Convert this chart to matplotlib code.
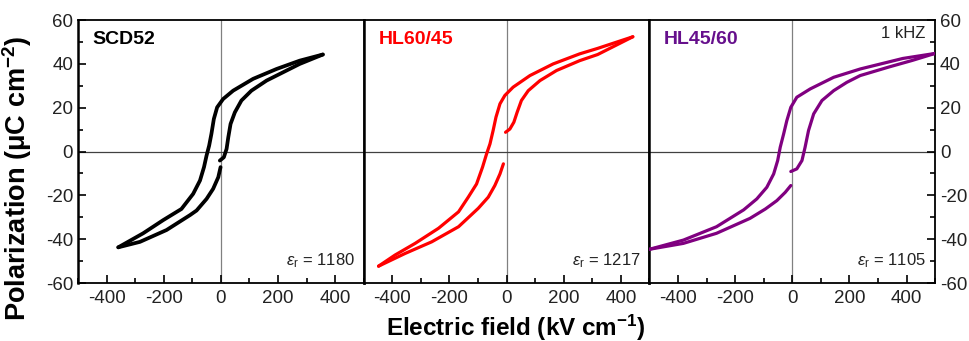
import matplotlib
matplotlib.use("Agg")
import matplotlib.pyplot as plt
from matplotlib.ticker import MultipleLocator

plt.rcParams['font.family'] = ['Liberation Sans', 'DejaVu Sans']
plt.rcParams['mathtext.fontset'] = 'custom'
plt.rcParams['mathtext.rm'] = 'Liberation Sans'
plt.rcParams['mathtext.it'] = 'Liberation Sans:italic'
plt.rcParams['mathtext.bf'] = 'Liberation Sans:bold'
plt.rcParams['axes.unicode_minus'] = False

# SCD52 loop: first rise from 0, descending branch, return branch to 0
scd_up_E = [-3.5, 10.5, 20, 26, 34, 49, 72, 107, 160, 218, 276, 357]
scd_up_P = [-4.1, -2.6, 1.2, 6.5, 12.6, 17.9, 23.3, 27.8, 32.4, 36.2, 40, 44.3]
scd_down_E = [357, 276, 195, 113, 43, 8, -13, -24.5, -33, -41, -50, -59, -73, -97, -138, -202, -272, -359]
scd_down_P = [44.3, 41.5, 37.7, 33.2, 27.8, 24, 20.2, 14.9, 8.1, 2.7, -1.8, -7.1, -13.2, -19.3, -26.2, -31.3, -37.3, -43.7]
scd_ret_E = [-359, -283, -190, -108, -85, -50, -27, -9, -1]
scd_ret_P = [-43.7, -41.2, -35.8, -29, -26.9, -21.6, -17, -11.7, -7.1]

# HL60/45
hl6045_up_E = [-3.5, 11.7, 25.6, 37, 52, 76, 117, 175, 256, 319, 442]
hl6045_up_P = [8.8, 10.3, 13.4, 17.9, 23.3, 27.8, 32.4, 37, 41.5, 44.3, 52.4]
hl6045_down_E = [442, 319, 256, 163, 82, 23, -6, -23, -37, -47, -58, -70, -84, -105, -134, -168, -238, -320, -390, -448]
hl6045_down_P = [52.4, 47.1, 44.6, 40, 34.7, 29.4, 25.6, 21.8, 15.7, 9.6, 3.5, -1.1, -7.1, -14.8, -20.8, -27.5, -35, -41.9, -47.2, -52.3]
hl6045_ret_E = [-448, -355, -262, -168, -99, -64, -41, -23, -11]
hl6045_ret_P = [-52.3, -46.5, -41.2, -34.3, -25.9, -20.8, -15.5, -10.2, -5.6]

# HL45/60
hl4560_up_E = [-5, 16, 34, 45, 57, 75, 104, 145, 191, 238, 341, 420, 500]
hl4560_up_P = [-9.1, -7.9, -4.1, 2, 9.6, 17.2, 23.3, 27.8, 31.6, 34.7, 38.7, 41.6, 44.8]
hl4560_down_E = [500, 387, 238, 145, 63, 16, -5, -19, -30, -42, -51, -65, -89, -124, -170, -265, -381, -500]
hl4560_down_P = [44.8, 42.5, 37.7, 33.9, 28.6, 24.8, 20.2, 14.1, 8.1, 2, -4.1, -10.2, -16.3, -21.6, -26.6, -34.3, -40.4, -44.6]
hl4560_ret_E = [-500, -381, -265, -148, -94, -54, -24.5, -5]
hl4560_ret_P = [-44.6, -41.9, -37.3, -30.5, -26.2, -22.4, -18.6, -15.5]

samples = ['SCD52', 'HL60/45', 'HL45/60']
eps_r = [1180, 1217, 1105]
line_colors = ['black', '#ff0000', '#800080']
title_colors = ['black', '#ff0000', '#66108c']
line_widths = [2.7, 2.3, 2.3]

loops = [
    [(scd_up_E, scd_up_P), (scd_down_E, scd_down_P), (scd_ret_E, scd_ret_P)],
    [(hl6045_up_E, hl6045_up_P), (hl6045_down_E, hl6045_down_P), (hl6045_ret_E, hl6045_ret_P)],
    [(hl4560_up_E, hl4560_up_P), (hl4560_down_E, hl4560_down_P), (hl4560_ret_E, hl4560_ret_P)],
]

fig, axes = plt.subplots(1, 3, figsize=(9.69, 3.41), dpi=100, sharey=True)
fig.subplots_adjust(left=0.0805, right=0.965, bottom=0.17, top=0.941, wspace=0)

for i, ax in enumerate(axes):
    ax.axvline(0, color='#808080', lw=0.9, zorder=1)
    ax.axhline(0, color='#404040', lw=0.9, zorder=1)
    for E, P in loops[i]:
        ax.plot(E, P, color=line_colors[i], lw=line_widths[i], solid_capstyle='round',
                solid_joinstyle='round', zorder=3)
    ax.set_xlim(-500, 500)
    ax.set_ylim(-60, 60)
    ax.xaxis.set_major_locator(MultipleLocator(200))
    ax.xaxis.set_minor_locator(MultipleLocator(100))
    ax.yaxis.set_major_locator(MultipleLocator(20))
    ax.yaxis.set_minor_locator(MultipleLocator(10))
    ax.tick_params(axis='x', which='both', direction='in', top=False, labelsize=13.5,
                   pad=5, labelcolor='#222222')
    ax.tick_params(axis='x', which='major', length=6, width=1.2)
    ax.tick_params(axis='x', which='minor', length=3.5, width=1.2)
    ax.tick_params(axis='y', which='both', direction='in', left=False, right=False,
                   labelleft=False, labelright=False, labelsize=13.5, labelcolor='#222222')
    for s in ax.spines.values():
        s.set_linewidth(1.3)
    ax.text(0.052, 0.925, samples[i], transform=ax.transAxes, fontsize=14,
            fontweight='bold', color=title_colors[i], va='center', ha='left')
    ax.text(0.968, 0.085, r'$\varepsilon_\mathregular{r}$ = %d' % eps_r[i],
            transform=ax.transAxes, fontsize=12, ha='right', va='center', color='#222222')

axes[0].tick_params(axis='y', which='both', left=True, labelleft=True)
axes[0].tick_params(axis='y', which='major', length=6, width=1.2)
axes[0].tick_params(axis='y', which='minor', length=3.5, width=1.2)
axes[2].tick_params(axis='y', which='both', right=True, labelright=True)
axes[2].tick_params(axis='y', which='major', length=6, width=1.2)
axes[2].tick_params(axis='y', which='minor', length=3.5, width=1.2)
axes[0].spines['left'].set_linewidth(1.8)
axes[0].spines['right'].set_linewidth(1.8)
axes[1].spines['left'].set_linewidth(1.8)
axes[1].spines['right'].set_linewidth(1.8)
axes[2].spines['left'].set_linewidth(1.8)

axes[2].text(0.965, 0.95, '1 kHZ', transform=axes[2].transAxes, fontsize=12,
             ha='right', va='center', color='#222222')

axes[0].set_ylabel(r'Polarization (μC cm$^\mathbf{-2}$)', fontsize=19.5,
                   fontweight='bold')
axes[0].yaxis.set_label_coords(-0.155, 0.40)
axes[1].set_xlabel(r'Electric field (kV cm$^\mathbf{-1}$)', fontsize=17.5,
                   fontweight='bold')
axes[1].xaxis.set_label_coords(0.533, -0.112)

fig.savefig('out.png', dpi=100)
